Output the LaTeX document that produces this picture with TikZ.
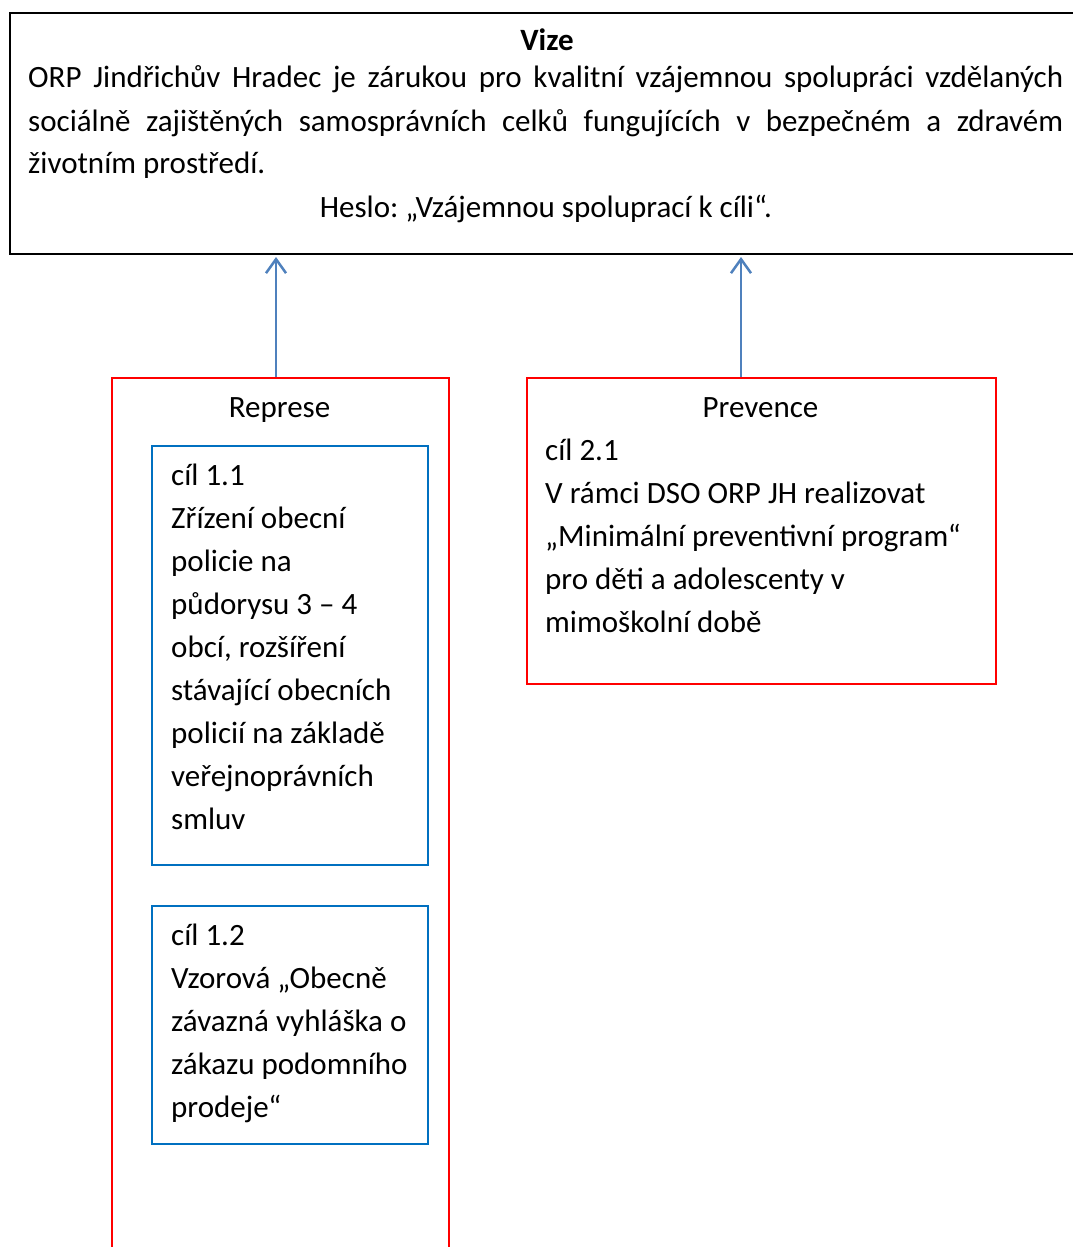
\documentclass[tikz,border=0pt]{standalone}
\usepackage{fontspec}
\setmainfont{Carlito}
\usetikzlibrary{arrows.meta}
\definecolor{redbox}{RGB}{255,0,0}
\definecolor{bluebox}{RGB}{0,112,192}
\definecolor{arrowblue}{RGB}{79,129,189}
\frenchspacing
\tikzset{
  txt/.style={font=\fontsize{31}{43}\selectfont, inner sep=0pt, align=left, anchor=base west},
  ctxt/.style={font=\fontsize{31}{43}\selectfont, inner sep=0pt, anchor=base},
  boxk/.style={draw=black, line width=2pt, inner sep=0pt, anchor=north west},
  boxr/.style={draw=redbox, line width=2pt, inner sep=0pt, anchor=north west},
  boxb/.style={draw=bluebox, line width=2pt, inner sep=0pt, anchor=north west},
  arr/.style={draw=arrowblue, line width=2.8pt, -{Straight Barb[length=14pt,width=20pt,line width=2.5pt]}, shorten >=2pt}
}
\begin{document}
\begin{tikzpicture}[x=1pt,y=-1pt]
\useasboundingbox (0,0) rectangle (1073,1247);
\fill[white] (0,0) rectangle (1073,1247);
\begin{scope}
\clip (0,0) rectangle (1073,1247);
\node[boxk, minimum width=1080pt, minimum height=241pt] (vize) at (9,12) {};
\node[boxr, minimum width=337pt, minimum height=890pt] (rep) at (111,377) {};
\end{scope}
\node[boxr, minimum width=469pt, minimum height=306pt] (prev) at (526,377) {};
\node[boxb, minimum width=276pt, minimum height=419pt] (c11) at (151,445) {};
\node[boxb, minimum width=276pt, minimum height=238pt] (c12) at (151,905) {};

\node[ctxt, font=\fontsize{31}{43}\selectfont\bfseries] (tvize) at (547,51) {Vize};
\node[txt] (l1) at (28,88) {\makebox[1035pt][s]{ORP Jindřichův Hradec je zárukou pro kvalitní vzájemnou spolupráci vzdělaných}};
\node[txt] (l2) at (28,131) {\makebox[1035pt][s]{sociálně zajištěných samosprávních celků fungujících v bezpečném a zdravém}};
\node[txt] (l3) at (28,173) {životním prostředí.};
\node[ctxt] (heslo) at (546,217) {Heslo: „Vzájemnou spoluprací k cíli“.};

\node[ctxt] (trep) at (279.5,417) {Represe};
\node[ctxt] (tprev) at (760.5,417) {Prevence};

% multi-line nodes: base anchor is on the last line
\node[txt] (t21) at (545,632) {cíl 2.1\\V rámci DSO ORP JH realizovat\\„Minimální preventivní program“\\pro děti a adolescenty v\\mimoškolní době};
\node[txt] (t11) at (171,829) {cíl 1.1\\Zřízení obecní\\policie na\\půdorysu 3 – 4\\obcí, rozšíření\\stávající obecních\\policií na základě\\veřejnoprávních\\smluv};
\node[txt] (t12) at (171,1117) {cíl 1.2\\Vzorová „Obecně\\závazná vyhláška o\\zákazu podomního\\prodeje“};

\draw[arr] ([xshift=-4.5pt]rep.north) -- ([xshift=-4.5pt]rep.north |- vize.south);
\draw[arr] ([xshift=-20.5pt]prev.north) -- ([xshift=-20.5pt]prev.north |- vize.south);
\end{tikzpicture}
\end{document}
